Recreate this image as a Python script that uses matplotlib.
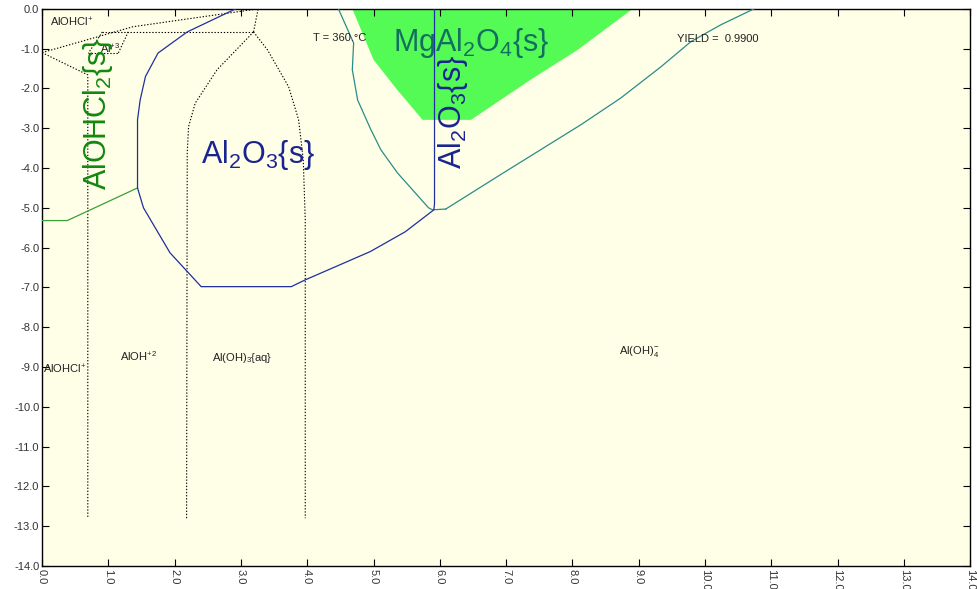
import matplotlib.pyplot as plt

plt.rcParams['font.family'] = ['Liberation Sans', 'DejaVu Sans']
plt.rcParams['mathtext.fontset'] = 'custom'
plt.rcParams['mathtext.rm'] = 'Liberation Sans'
plt.rcParams['mathtext.it'] = 'Liberation Sans'
plt.rcParams['mathtext.default'] = 'rm'

# --- data (pH on x, log activity on y) ---
blue_x = [2.92, 2.19, 1.75, 1.56, 1.48, 1.44, 1.44, 1.53, 1.93, 2.19, 2.40, 3.76, 3.97, 4.95, 5.48, 5.91, 5.92, 5.92]
blue_y = [0.0, -0.58, -1.11, -1.70, -2.29, -2.79, -4.50, -5.00, -6.13, -6.60, -6.98, -6.98, -6.81, -6.10, -5.60, -5.05, -4.90, 0.0]

green_line_x = [0.0, 0.38, 1.44]
green_line_y = [-5.32, -5.32, -4.50]

teal_left_x = [4.47, 4.70, 4.68, 4.76, 4.95, 5.11, 5.36, 5.83, 5.89, 6.09]
teal_left_y = [0.0, -0.86, -1.53, -2.29, -3.00, -3.54, -4.12, -5.00, -5.05, -5.03]
teal_right_x = [6.09, 6.96, 8.13, 8.73, 9.34, 9.79, 10.24, 10.74]
teal_right_y = [-5.03, -4.12, -2.91, -2.24, -1.45, -0.82, -0.40, 0.0]

mgal_x = [4.68, 5.00, 5.36, 5.74, 6.47, 7.37, 8.08, 8.91]
mgal_y = [0.0, -1.28, -2.04, -2.79, -2.79, -1.78, -1.03, 0.0]

dotted_lines = [
    ([0.0, 1.37, 3.26], [-1.10, -0.45, 0.0]),
    ([0.91, 3.19], [-0.58, -0.58]),
    ([0.91, 0.70], [-0.58, -1.11]),
    ([1.30, 1.15], [-0.58, -1.11]),
    ([0.70, 1.15], [-1.11, -1.11]),
    ([0.0, 0.69, 0.69], [-1.10, -1.66, -12.8]),
    ([3.19, 2.64, 2.31, 2.21, 2.19, 2.18], [-0.58, -1.53, -2.37, -2.96, -3.62, -12.8]),
    ([3.19, 3.40, 3.72, 3.87, 3.94, 3.97, 3.97], [-0.58, -1.03, -1.96, -2.79, -3.79, -5.30, -12.8]),
    ([3.19, 3.26], [-0.58, 0.0]),
]

fig = plt.figure(figsize=(9.78, 5.89), dpi=100)
ax = fig.add_axes([0.043, 0.039, 0.949, 0.946])
ax.set_facecolor('#fffee6')

ax.fill(mgal_x, mgal_y, color='#55fb55', lw=0, zorder=1)
for xs, ys in dotted_lines:
    ax.plot(xs, ys, color='black', ls=(0, (1.2, 1.6)), lw=0.8, zorder=2)
ax.plot(green_line_x, green_line_y, color='#3aa03a', lw=0.9, zorder=3)
ax.plot(teal_left_x, teal_left_y, color='#2a8c8c', lw=0.9, zorder=3)
ax.plot(teal_right_x, teal_right_y, color='#2a8c8c', lw=0.9, zorder=3)
ax.plot(blue_x, blue_y, color='#1f2fa0', lw=0.9, zorder=4)

# labels
small = dict(fontsize=8, color='#222222')
big = dict(fontsize=22)
ax.text(0.12, -0.33, r'AlOHCl$^{+}$', va='center', ha='left', **small)
ax.text(0.88, -0.98, r'Al$^{+3}$', va='center', ha='left', **small)
ax.text(0.84, -2.65, r'AlOHCl$_2${s}', rotation=90, va='center', ha='center', color='#118811', **big)
ax.text(3.26, -3.67, r'Al$_2$O$_3${s}', va='center', ha='center', color='#1a2490', **big)
ax.text(4.09, -0.73, 'T = 360.°C', va='center', ha='left', **small)
ax.text(6.47, -0.85, r'MgAl$_2$O$_4${s}', va='center', ha='center', color='#137060', **big)
ax.text(9.58, -0.75, 'YIELD =  0.9900', va='center', ha='left', **small)
ax.text(6.2, -2.6, r'Al$_2$O$_3${s}', rotation=90, va='center', ha='center', color='#1a2490', **big)
ax.text(0.01, -9.07, r'AlOHCl$^{+}$', va='center', ha='left', **small)
ax.text(1.18, -8.72, r'AlOH$^{+2}$', va='center', ha='left', **small)
ax.text(2.56, -8.78, r'Al(OH)$_3${aq}', va='center', ha='left', **small)
ax.text(8.7, -8.62, r'Al(OH)$_4^{-}$', va='center', ha='left', **small)

ax.set_xlim(0, 14)
ax.set_ylim(-14, 0)
ax.set_xticks(range(0, 15))
ax.set_yticks(range(-14, 1))
ax.set_xticklabels([f'{v:.1f}' for v in range(0, 15)], rotation=-90)
ax.set_yticklabels([f'{v:.1f}' for v in range(-14, 1)])
ax.tick_params(direction='in', top=True, right=True, labelsize=8, labelcolor='#333333',
               length=5, width=0.8, pad=2)
for s in ax.spines.values():
    s.set_linewidth(1.0)

fig.savefig('out.png', dpi=100)
